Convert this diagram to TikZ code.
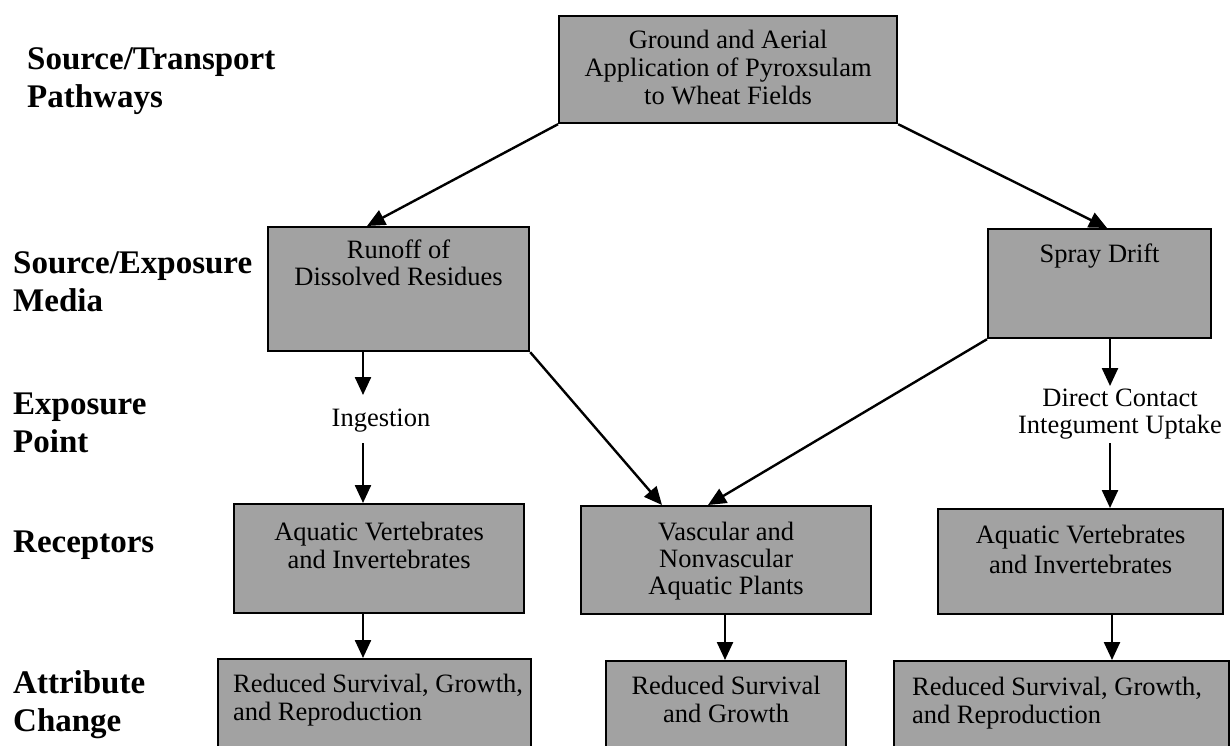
\documentclass[tikz,border=0pt]{standalone}
\usepackage{fontspec}
\setmainfont{Liberation Serif}
\usetikzlibrary{arrows.meta,calc}
\definecolor{boxgray}{HTML}{A2A2A2}
\newcommand{\boxtxt}[4]{\parbox[c][#2][t]{#1}{\vspace*{#3}\centering #4\par}}
\newcommand{\boxtxtl}[5]{\parbox[c][#2][t]{#1}{\vspace*{#3}\raggedright\leftskip=#4 #5\par}}
\tikzset{
  box/.style={draw=black, line width=2.2pt, fill=boxgray, inner sep=0pt, anchor=north west,
    font=\fontsize{26.5}{28}\selectfont},
  lbl/.style={anchor=west, align=left, inner sep=0pt, font=\fontsize{33}{38}\selectfont\bfseries},
  pt/.style={inner sep=0pt, align=center, font=\fontsize{26.5}{27}\selectfont},
  arr/.style={line width=2.4pt, -{Triangle[length=18pt,width=16pt]}}
}
\begin{document}
\begin{tikzpicture}[x=1pt,y=-1pt]
\useasboundingbox (0,0) rectangle (1230,745);
% left labels
\node[lbl] (l1) at (27,81) {Source/Transport\\Pathways};
\node[lbl] (l2) at (13,282) {Source/Exposure\\Media};
\node[lbl] (l3) at (13,423) {Exposure\\Point};
\node[lbl] (l4) at (13,545) {Receptors};
\node[lbl] (l5) at (13,705) {Attribute\\Change};
% boxes
\node[box] (top) at (558,15) {\boxtxt{338pt}{107pt}{14pt}{Ground and Aerial\\Application of Pyroxsulam\\to Wheat Fields}};
\node[box] (runoff) at (267,226) {\boxtxt{261pt}{124pt}{13pt}{\fontsize{26.5}{27}\selectfont Runoff of\\Dissolved Residues}};
\node[box] (spray) at (987,228) {\boxtxt{223pt}{109pt}{15pt}{Spray Drift}};
\node[box] (recL) at (233,503) {\boxtxt{290pt}{109pt}{18pt}{Aquatic Vertebrates\\and Invertebrates}};
\node[box] (recM) at (580,505) {\boxtxt{290pt}{108pt}{16pt}{\fontsize{26.5}{27}\selectfont Vascular and\\Nonvascular\\Aquatic Plants}};
\node[box] (recR) at (937,508) {\boxtxt{285pt}{105pt}{16pt}{\fontsize{26.5}{30}\selectfont Aquatic Vertebrates\\and Invertebrates}};
\node[box] (attL) at (217,658) {\boxtxtl{313pt}{100pt}{15pt}{15pt}{Reduced Survival, Growth,\\and Reproduction}};
\node[box] (attM) at (605,660) {\boxtxt{240pt}{100pt}{15pt}{Reduced Survival\\and Growth}};
\node[box] (attR) at (893,660) {\boxtxtl{335pt}{100pt}{16pt}{18pt}{Reduced Survival, Growth,\\and Reproduction}};
% exposure points
\node[pt] (ing) at (381,421) {Ingestion};
\node[pt] (dc) at (1120,414) {Direct Contact\\Integument Uptake};
% connectors
\draw[arr] (top.south west) -- (runoff.north -| 367,0);
\draw[arr] (top.south east) -- (spray.north -| 1107,0);
\draw[arr] (runoff.south -| 363,0) -- (363,395);
\draw[arr] (363,443) -- (recL.north -| 363,0);
\draw[arr] (runoff.south east) -- (recM.north -| 662,0);
\draw[arr] (spray.south west) -- (recM.north -| 708,0);
\draw[arr] (spray.south -| 1110,0) -- (1110,386);
\draw[arr] (1110,443) -- (recR.north -| 1110,0);
\draw[arr] (recL.south -| 363,0) -- (attL.north -| 363,0);
\draw[arr] (recM.south -| 725,0) -- (attM.north -| 725,0);
\draw[arr] (recR.south -| 1112,0) -- (attR.north -| 1112,0);
\end{tikzpicture}
\end{document}
